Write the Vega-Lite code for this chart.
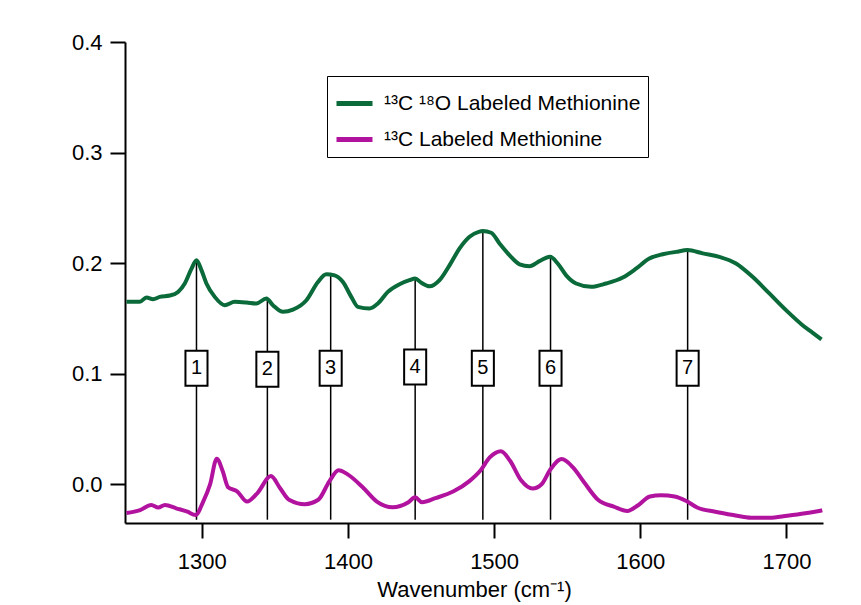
{
  "$schema": "https://vega.github.io/schema/vega-lite/v6.json",
  "autosize": "none",
  "width": 698,
  "height": 481,
  "padding": {"left": 125, "top": 42, "right": 38, "bottom": 82},
  "background": "white",
  "config": {
    "view": {"stroke": null},
    "font": "Liberation Sans Narrow, Arial Narrow, Liberation Sans, Arial, sans-serif",
    "axis": {
      "domainColor": "black", "domainWidth": 2, "tickColor": "black", "tickWidth": 2, "tickSize": 15,
      "labelColor": "black", "labelFontSize": 22, "grid": false,
      "titleColor": "black", "titleFontSize": 22, "titleFontWeight": "normal",
      "labelFont": "Liberation Sans Narrow, Arial Narrow, Liberation Sans, Arial, sans-serif",
      "titleFont": "Liberation Sans Narrow, Arial Narrow, Liberation Sans, Arial, sans-serif"
    },
    "legend": {
      "labelFont": "Liberation Sans Narrow, Arial Narrow, Liberation Sans, Arial, sans-serif"
    }
  },
  "datasets": {
    "curves": [
      {"wn":1248.5,"a":0.165,"s":"¹³C ¹⁸O Labeled Methionine"},
      {"wn":1257.6,"a":0.165,"s":"¹³C ¹⁸O Labeled Methionine"},
      {"wn":1262.2,"a":0.169,"s":"¹³C ¹⁸O Labeled Methionine"},
      {"wn":1266.7,"a":0.1674,"s":"¹³C ¹⁸O Labeled Methionine"},
      {"wn":1271.3,"a":0.1695,"s":"¹³C ¹⁸O Labeled Methionine"},
      {"wn":1278.1,"a":0.1707,"s":"¹³C ¹⁸O Labeled Methionine"},
      {"wn":1283.8,"a":0.174,"s":"¹³C ¹⁸O Labeled Methionine"},
      {"wn":1288.4,"a":0.1816,"s":"¹³C ¹⁸O Labeled Methionine"},
      {"wn":1293,"a":0.195,"s":"¹³C ¹⁸O Labeled Methionine"},
      {"wn":1296.4,"a":0.2027,"s":"¹³C ¹⁸O Labeled Methionine"},
      {"wn":1299.8,"a":0.1937,"s":"¹³C ¹⁸O Labeled Methionine"},
      {"wn":1303.2,"a":0.1816,"s":"¹³C ¹⁸O Labeled Methionine"},
      {"wn":1308.9,"a":0.1695,"s":"¹³C ¹⁸O Labeled Methionine"},
      {"wn":1315.7,"a":0.162,"s":"¹³C ¹⁸O Labeled Methionine"},
      {"wn":1322.6,"a":0.165,"s":"¹³C ¹⁸O Labeled Methionine"},
      {"wn":1330.6,"a":0.1644,"s":"¹³C ¹⁸O Labeled Methionine"},
      {"wn":1337.4,"a":0.1635,"s":"¹³C ¹⁸O Labeled Methionine"},
      {"wn":1344.2,"a":0.168,"s":"¹³C ¹⁸O Labeled Methionine"},
      {"wn":1348.7,"a":0.162,"s":"¹³C ¹⁸O Labeled Methionine"},
      {"wn":1355.6,"a":0.156,"s":"¹³C ¹⁸O Labeled Methionine"},
      {"wn":1362.4,"a":0.158,"s":"¹³C ¹⁸O Labeled Methionine"},
      {"wn":1371.6,"a":0.1665,"s":"¹³C ¹⁸O Labeled Methionine"},
      {"wn":1379.5,"a":0.183,"s":"¹³C ¹⁸O Labeled Methionine"},
      {"wn":1385.2,"a":0.19,"s":"¹³C ¹⁸O Labeled Methionine"},
      {"wn":1390.9,"a":0.189,"s":"¹³C ¹⁸O Labeled Methionine"},
      {"wn":1396.6,"a":0.183,"s":"¹³C ¹⁸O Labeled Methionine"},
      {"wn":1402.3,"a":0.1695,"s":"¹³C ¹⁸O Labeled Methionine"},
      {"wn":1406.8,"a":0.1605,"s":"¹³C ¹⁸O Labeled Methionine"},
      {"wn":1414.8,"a":0.159,"s":"¹³C ¹⁸O Labeled Methionine"},
      {"wn":1420.5,"a":0.1635,"s":"¹³C ¹⁸O Labeled Methionine"},
      {"wn":1427.3,"a":0.174,"s":"¹³C ¹⁸O Labeled Methionine"},
      {"wn":1435.3,"a":0.181,"s":"¹³C ¹⁸O Labeled Methionine"},
      {"wn":1442.1,"a":0.1846,"s":"¹³C ¹⁸O Labeled Methionine"},
      {"wn":1446,"a":0.1861,"s":"¹³C ¹⁸O Labeled Methionine"},
      {"wn":1450.2,"a":0.1822,"s":"¹³C ¹⁸O Labeled Methionine"},
      {"wn":1455.8,"a":0.179,"s":"¹³C ¹⁸O Labeled Methionine"},
      {"wn":1462.7,"a":0.1846,"s":"¹³C ¹⁸O Labeled Methionine"},
      {"wn":1469.5,"a":0.198,"s":"¹³C ¹⁸O Labeled Methionine"},
      {"wn":1476.4,"a":0.2133,"s":"¹³C ¹⁸O Labeled Methionine"},
      {"wn":1483.2,"a":0.2238,"s":"¹³C ¹⁸O Labeled Methionine"},
      {"wn":1489.5,"a":0.2283,"s":"¹³C ¹⁸O Labeled Methionine"},
      {"wn":1492.3,"a":0.229,"s":"¹³C ¹⁸O Labeled Methionine"},
      {"wn":1498,"a":0.2275,"s":"¹³C ¹⁸O Labeled Methionine"},
      {"wn":1503.7,"a":0.2178,"s":"¹³C ¹⁸O Labeled Methionine"},
      {"wn":1510.5,"a":0.2072,"s":"¹³C ¹⁸O Labeled Methionine"},
      {"wn":1517.4,"a":0.199,"s":"¹³C ¹⁸O Labeled Methionine"},
      {"wn":1524.2,"a":0.1973,"s":"¹³C ¹⁸O Labeled Methionine"},
      {"wn":1531,"a":0.2018,"s":"¹³C ¹⁸O Labeled Methionine"},
      {"wn":1538.3,"a":0.2057,"s":"¹³C ¹⁸O Labeled Methionine"},
      {"wn":1543.5,"a":0.1997,"s":"¹³C ¹⁸O Labeled Methionine"},
      {"wn":1549.3,"a":0.189,"s":"¹³C ¹⁸O Labeled Methionine"},
      {"wn":1556.1,"a":0.1816,"s":"¹³C ¹⁸O Labeled Methionine"},
      {"wn":1566.3,"a":0.1786,"s":"¹³C ¹⁸O Labeled Methionine"},
      {"wn":1576.6,"a":0.1816,"s":"¹³C ¹⁸O Labeled Methionine"},
      {"wn":1588,"a":0.187,"s":"¹³C ¹⁸O Labeled Methionine"},
      {"wn":1597.1,"a":0.195,"s":"¹³C ¹⁸O Labeled Methionine"},
      {"wn":1606.2,"a":0.2042,"s":"¹³C ¹⁸O Labeled Methionine"},
      {"wn":1615.3,"a":0.208,"s":"¹³C ¹⁸O Labeled Methionine"},
      {"wn":1624.5,"a":0.2102,"s":"¹³C ¹⁸O Labeled Methionine"},
      {"wn":1632.4,"a":0.2118,"s":"¹³C ¹⁸O Labeled Methionine"},
      {"wn":1642.7,"a":0.2088,"s":"¹³C ¹⁸O Labeled Methionine"},
      {"wn":1654.1,"a":0.2057,"s":"¹³C ¹⁸O Labeled Methionine"},
      {"wn":1665.5,"a":0.1997,"s":"¹³C ¹⁸O Labeled Methionine"},
      {"wn":1676.8,"a":0.1876,"s":"¹³C ¹⁸O Labeled Methionine"},
      {"wn":1688.3,"a":0.1726,"s":"¹³C ¹⁸O Labeled Methionine"},
      {"wn":1699.7,"a":0.1575,"s":"¹³C ¹⁸O Labeled Methionine"},
      {"wn":1711,"a":0.1439,"s":"¹³C ¹⁸O Labeled Methionine"},
      {"wn":1718,"a":0.137,"s":"¹³C ¹⁸O Labeled Methionine"},
      {"wn":1724,"a":0.131,"s":"¹³C ¹⁸O Labeled Methionine"},
      {"wn":1248.5,"a":-0.026,"s":"¹³C Labeled Methionine"},
      {"wn":1257.8,"a":-0.0233,"s":"¹³C Labeled Methionine"},
      {"wn":1265.5,"a":-0.0187,"s":"¹³C Labeled Methionine"},
      {"wn":1270.2,"a":-0.021,"s":"¹³C Labeled Methionine"},
      {"wn":1274.8,"a":-0.0187,"s":"¹³C Labeled Methionine"},
      {"wn":1282.5,"a":-0.0217,"s":"¹³C Labeled Methionine"},
      {"wn":1290.2,"a":-0.0248,"s":"¹³C Labeled Methionine"},
      {"wn":1295.8,"a":-0.0278,"s":"¹³C Labeled Methionine"},
      {"wn":1301,"a":-0.0156,"s":"¹³C Labeled Methionine"},
      {"wn":1305.7,"a":0.0,"s":"¹³C Labeled Methionine"},
      {"wn":1310.3,"a":0.0232,"s":"¹³C Labeled Methionine"},
      {"wn":1314.3,"a":0.012,"s":"¹³C Labeled Methionine"},
      {"wn":1318,"a":-0.0027,"s":"¹³C Labeled Methionine"},
      {"wn":1324.2,"a":-0.0063,"s":"¹³C Labeled Methionine"},
      {"wn":1331,"a":-0.0156,"s":"¹³C Labeled Methionine"},
      {"wn":1338.1,"a":-0.0079,"s":"¹³C Labeled Methionine"},
      {"wn":1347.3,"a":0.0074,"s":"¹³C Labeled Methionine"},
      {"wn":1353.5,"a":-0.0033,"s":"¹³C Labeled Methionine"},
      {"wn":1359.7,"a":-0.014,"s":"¹³C Labeled Methionine"},
      {"wn":1370.5,"a":-0.018,"s":"¹³C Labeled Methionine"},
      {"wn":1379.7,"a":-0.014,"s":"¹³C Labeled Methionine"},
      {"wn":1387.4,"a":0.0029,"s":"¹³C Labeled Methionine"},
      {"wn":1393.6,"a":0.0127,"s":"¹³C Labeled Methionine"},
      {"wn":1399.8,"a":0.009,"s":"¹³C Labeled Methionine"},
      {"wn":1410.6,"a":-0.0033,"s":"¹³C Labeled Methionine"},
      {"wn":1419.8,"a":-0.0156,"s":"¹³C Labeled Methionine"},
      {"wn":1430.6,"a":-0.0208,"s":"¹³C Labeled Methionine"},
      {"wn":1441.4,"a":-0.0162,"s":"¹³C Labeled Methionine"},
      {"wn":1446,"a":-0.0118,"s":"¹³C Labeled Methionine"},
      {"wn":1450.7,"a":-0.0162,"s":"¹³C Labeled Methionine"},
      {"wn":1459.9,"a":-0.0125,"s":"¹³C Labeled Methionine"},
      {"wn":1472.3,"a":-0.0063,"s":"¹³C Labeled Methionine"},
      {"wn":1483.1,"a":0.0029,"s":"¹³C Labeled Methionine"},
      {"wn":1490.8,"a":0.0127,"s":"¹³C Labeled Methionine"},
      {"wn":1497,"a":0.0243,"s":"¹³C Labeled Methionine"},
      {"wn":1504.7,"a":0.0299,"s":"¹³C Labeled Methionine"},
      {"wn":1510.9,"a":0.0213,"s":"¹³C Labeled Methionine"},
      {"wn":1518.6,"a":0.0034,"s":"¹³C Labeled Methionine"},
      {"wn":1526.3,"a":-0.0039,"s":"¹³C Labeled Methionine"},
      {"wn":1532.5,"a":0.0,"s":"¹³C Labeled Methionine"},
      {"wn":1538.6,"a":0.0136,"s":"¹³C Labeled Methionine"},
      {"wn":1546.3,"a":0.0228,"s":"¹³C Labeled Methionine"},
      {"wn":1554.1,"a":0.0151,"s":"¹³C Labeled Methionine"},
      {"wn":1561.8,"a":0.0014,"s":"¹³C Labeled Methionine"},
      {"wn":1571.1,"a":-0.014,"s":"¹³C Labeled Methionine"},
      {"wn":1581.9,"a":-0.0202,"s":"¹³C Labeled Methionine"},
      {"wn":1591.1,"a":-0.0242,"s":"¹³C Labeled Methionine"},
      {"wn":1598.8,"a":-0.0187,"s":"¹³C Labeled Methionine"},
      {"wn":1606.6,"a":-0.011,"s":"¹³C Labeled Methionine"},
      {"wn":1614.3,"a":-0.01,"s":"¹³C Labeled Methionine"},
      {"wn":1623.5,"a":-0.011,"s":"¹³C Labeled Methionine"},
      {"wn":1631.2,"a":-0.0149,"s":"¹³C Labeled Methionine"},
      {"wn":1638.9,"a":-0.021,"s":"¹³C Labeled Methionine"},
      {"wn":1651.3,"a":-0.0248,"s":"¹³C Labeled Methionine"},
      {"wn":1663.6,"a":-0.0278,"s":"¹³C Labeled Methionine"},
      {"wn":1675.9,"a":-0.0303,"s":"¹³C Labeled Methionine"},
      {"wn":1688.3,"a":-0.0303,"s":"¹³C Labeled Methionine"},
      {"wn":1700.6,"a":-0.0284,"s":"¹³C Labeled Methionine"},
      {"wn":1712.9,"a":-0.0262,"s":"¹³C Labeled Methionine"},
      {"wn":1722.3,"a":-0.0242,"s":"¹³C Labeled Methionine"},
      {"wn":1724.5,"a":-0.0235,"s":"¹³C Labeled Methionine"}
    ],
    "peaks": [
      {"peak":"1","wn":1296.4,"top":0.2027,"bottom":-0.032,"box":0.105},
      {"peak":"2","wn":1344.9,"top":0.168,"bottom":-0.032,"box":0.104},
      {"peak":"3","wn":1388.2,"top":0.19,"bottom":-0.032,"box":0.105},
      {"peak":"4","wn":1446,"top":0.1861,"bottom":-0.032,"box":0.106},
      {"peak":"5","wn":1492.3,"top":0.229,"bottom":-0.032,"box":0.105},
      {"peak":"6","wn":1538.6,"top":0.2057,"bottom":-0.032,"box":0.105},
      {"peak":"7","wn":1632.4,"top":0.2118,"bottom":-0.032,"box":0.105}
    ]
  },
  "layer": [
    {
      "data": {"name": "peaks"},
      "mark": {"type": "rule", "color": "black", "strokeWidth": 1.5},
      "encoding": {
        "x": {"field": "wn", "type": "quantitative", "scale": {"domain": [1247.5, 1725], "nice": false, "zero": false}},
        "y": {"field": "top", "type": "quantitative", "scale": {"domain": [-0.035, 0.4], "nice": false, "zero": false}},
        "y2": {"field": "bottom"}
      }
    },
    {
      "data": {"name": "curves"},
      "mark": {"type": "line", "strokeWidth": 4, "interpolate": "monotone"},
      "encoding": {
        "x": {
          "field": "wn", "type": "quantitative",
          "scale": {"domain": [1247.5, 1725], "nice": false, "zero": false},
          "axis": {"values": [1300, 1400, 1500, 1600, 1700], "title": "Wavenumber (cm⁻¹)", "labelPadding": 13, "titlePadding": 7, "format": "d"}
        },
        "y": {
          "field": "a", "type": "quantitative",
          "scale": {"domain": [-0.035, 0.4], "nice": false, "zero": false},
          "axis": {"values": [0, 0.1, 0.2, 0.3, 0.4], "format": ".1f", "title": null, "labelPadding": 8}
        },
        "color": {
          "field": "s", "type": "nominal",
          "scale": {"domain": ["¹³C ¹⁸O Labeled Methionine", "¹³C Labeled Methionine"], "range": ["#0B6A3A", "#B2139E"]},
          "legend": {
            "title": null, "orient": "none", "legendX": 202, "legendY": 34,
            "symbolType": "stroke", "symbolSize": 1296, "symbolStrokeWidth": 5,
            "labelFontSize": 21, "labelColor": "black", "labelOffset": 9, "labelLimit": 500,
            "strokeColor": "black", "fillColor": "white", "padding": 7, "rowPadding": 5
          }
        }
      }
    },
    {
      "data": {"name": "peaks"},
      "mark": {"type": "point", "shape": "M-0.63,-1L0.63,-1L0.63,1L-0.63,1Z", "size": 1225, "filled": true, "fill": "white", "stroke": "black", "strokeWidth": 2, "opacity": 1},
      "encoding": {
        "x": {"field": "wn", "type": "quantitative"},
        "y": {"field": "box", "type": "quantitative"}
      }
    },
    {
      "data": {"name": "peaks"},
      "mark": {"type": "text", "fontSize": 20, "color": "black", "align": "center", "baseline": "middle"},
      "encoding": {
        "x": {"field": "wn", "type": "quantitative"},
        "y": {"field": "box", "type": "quantitative"},
        "text": {"field": "peak"}
      }
    }
  ]
}
